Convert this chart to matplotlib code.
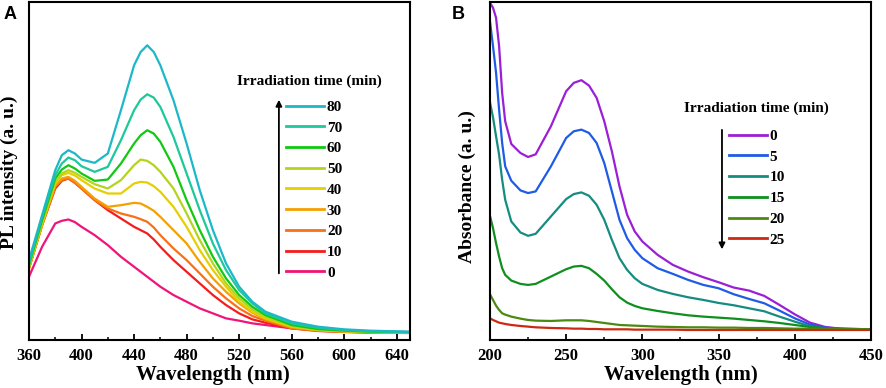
import matplotlib
matplotlib.use("Agg")
import matplotlib.pyplot as plt
from matplotlib.ticker import MultipleLocator

plt.rcParams["font.family"] = ["Liberation Serif", "DejaVu Serif"]
plt.rcParams["font.weight"] = "bold"

# ---- Panel A: PL spectra (arbitrary units) ----
pl_wavelength = [360, 370, 380, 385, 390, 395, 400, 410, 420, 430, 440, 445,
                 450, 455, 460, 470, 480, 490, 500, 510, 520, 530, 540, 560,
                 580, 600, 620, 650]
pl_times = ["0", "10", "20", "30", "40", "50", "60", "70", "80"]
pl_0 = [190, 280, 350, 358, 362, 354, 340, 315, 285, 250, 220, 205,
        190, 175, 160, 135, 115, 95, 80, 65, 58, 50, 45, 35,
        30, 27, 25, 24]
pl_10 = [215, 345, 455, 478, 485, 472, 455, 420, 390, 365, 340, 330,
         320, 302, 280, 240, 205, 170, 135, 105, 80, 62, 52, 35,
         27, 24, 22, 21]
pl_20 = [215, 345, 460, 480, 485, 472, 455, 420, 395, 380, 370, 363,
         355, 338, 315, 275, 240, 200, 160, 125, 95, 72, 58, 35,
         28, 25, 23, 22]
pl_30 = [215, 345, 465, 485, 490, 478, 460, 425, 400, 405, 412, 410,
         400, 388, 370, 330, 290, 235, 185, 145, 110, 82, 62, 38,
         29, 25, 23, 22]
pl_40 = [220, 350, 470, 495, 502, 494, 480, 455, 440, 440, 470, 475,
         473, 462, 445, 400, 340, 270, 210, 160, 115, 85, 65, 40,
         30, 26, 24, 22]
pl_50 = [220, 355, 475, 500, 510, 502, 490, 468, 455, 480, 525, 542,
         538, 525, 505, 455, 380, 300, 230, 170, 125, 92, 70, 42,
         31, 27, 24, 23]
pl_60 = [225, 360, 485, 512, 525, 515, 500, 478, 482, 530, 590, 615,
         630, 620, 595, 520, 420, 330, 250, 185, 135, 100, 75, 45,
         33, 28, 25, 23]
pl_70 = [230, 370, 495, 530, 548, 540, 522, 505, 520, 600, 690, 722,
         738, 728, 700, 610, 500, 390, 290, 210, 150, 110, 80, 50,
         37, 30, 26, 24]
pl_80 = [240, 375, 510, 555, 570, 560, 542, 532, 560, 690, 825, 865,
         885, 865, 825, 720, 590, 450, 330, 230, 160, 115, 85, 55,
         40, 32, 28, 25]
pl_series = [pl_0, pl_10, pl_20, pl_30, pl_40, pl_50, pl_60, pl_70, pl_80]
pl_colors = ["#f0147a", "#f51c1c", "#f87018", "#f5a000", "#e6cf00",
             "#b4d41c", "#12c812", "#1ec89a", "#1cb8c8"]

# ---- Panel B: absorbance spectra (arbitrary units) ----
ab_wavelength = [200, 202, 204, 206, 208, 210, 214, 220, 225, 230, 240, 250,
                 255, 260, 265, 270, 275, 280, 285, 290, 295, 300, 310, 320,
                 330, 340, 350, 360, 370, 380, 390, 400, 410, 420, 430, 440, 450]
ab_times = ["0", "5", "10", "15", "20", "25"]
ab_0 = [1010, 995, 965, 880, 740, 655, 587, 560, 548, 556, 640, 745,
        770, 778, 762, 725, 655, 565, 460, 375, 325, 295, 255, 225,
        205, 188, 173, 157, 148, 132, 105, 77, 52, 39, 34, 33, 32]
ab_5 = [955, 880, 800, 690, 590, 520, 477, 448, 440, 445, 520, 605,
        625, 630, 620, 590, 530, 445, 360, 305, 270, 245, 215, 198,
        180, 165, 155, 137, 123, 110, 88, 65, 46, 37, 34, 33, 32]
ab_10 = [712, 667, 610, 555, 480, 420, 355, 322, 312, 318, 370, 422,
         437, 442, 432, 405, 360, 300, 245, 210, 185, 168, 150, 138,
         128, 120, 111, 104, 95, 86, 70, 55, 41, 35, 33, 32, 32]
ab_15 = [372, 335, 290, 250, 215, 195, 178, 168, 165, 168, 190, 212,
         220, 222, 215, 198, 178, 152, 128, 112, 102, 95, 87, 80,
         74, 70, 67, 64, 60, 56, 51, 45, 39, 35, 33, 32, 32]
ab_20 = [137, 120, 103, 90, 80, 76, 70, 64, 60, 58, 57, 59,
         59, 59, 57, 54, 51, 48, 45, 44, 43, 42, 40, 39,
         38, 38, 37, 37, 36, 36, 35, 34, 34, 33, 33, 32, 32]
ab_25 = [65, 60, 56, 52, 50, 48, 45, 42, 40, 38, 36, 35,
         34, 34, 33, 33, 32, 32, 32, 32, 31, 31, 31, 31,
         30, 30, 30, 30, 30, 30, 30, 30, 30, 30, 30, 30, 30]
ab_series = [ab_0, ab_5, ab_10, ab_15, ab_20, ab_25]
ab_colors = ["#9b1fd6", "#1f5be6", "#168c80", "#0f8f1f", "#4a8a10", "#cc2a10"]


def style_axes(ax, xmin, xmax, major, minor, ymax):
    ax.set_xlim(xmin, xmax)
    ax.set_ylim(0, ymax)
    ax.set_yticks([])
    ax.xaxis.set_major_locator(MultipleLocator(major))
    ax.xaxis.set_minor_locator(MultipleLocator(minor))
    ax.tick_params(axis="x", which="major", direction="in", length=4,
                   width=1.3, labelsize=12, pad=6)
    ax.tick_params(axis="x", which="minor", direction="in", length=2.2,
                   width=1.1)
    for lab in ax.get_xticklabels():
        lab.set_fontweight("bold")
    for sp in ax.spines.values():
        sp.set_linewidth(1.5)


def add_legend(ax, handles, anchor):
    leg = ax.legend(handles=handles, loc="upper left", bbox_to_anchor=anchor,
                    frameon=False, fontsize=11, handlelength=2.48,
                    handletextpad=0.2, labelspacing=0.46, borderpad=0,
                    borderaxespad=0)
    for ln in leg.get_lines():
        ln.set_linewidth(2)
    return leg


fig = plt.figure(figsize=(8.86, 3.88), dpi=100)
ax_a = fig.add_axes([0.0327, 0.1237, 0.430, 0.871])
ax_b = fig.add_axes([0.553, 0.1237, 0.430, 0.871])

# Panel A
lines_a = []
for t, vals, c in zip(pl_times, pl_series, pl_colors):
    ln, = ax_a.plot(pl_wavelength, vals, color=c, lw=1.6, label=t)
    lines_a.append(ln)
style_axes(ax_a, 360, 650, 40, 20, 1015)
ax_a.set_xlabel("Wavelength (nm)", fontsize=15, fontweight="bold")
ax_a.xaxis.set_label_coords(0.483, -0.075)
ax_a.set_ylabel("PL intensity (a. u.)", fontsize=14, fontweight="bold")
ax_a.yaxis.set_label_coords(-0.03, 0.497)
add_legend(ax_a, lines_a[::-1], (0.6745, 0.7095))
ax_a.text(0.735, 0.766, "Irradiation time (min)", transform=ax_a.transAxes,
          ha="center", va="center", fontsize=11, fontweight="bold")
ax_a.annotate("", xy=(0.656, 0.719), xytext=(0.656, 0.189),
              xycoords="axes fraction",
              arrowprops=dict(arrowstyle="-|>", color="black", lw=1.3,
                              mutation_scale=9))
fig.text(0.004, 0.952, "A", fontsize=13, fontweight="bold",
         family="Liberation Sans")

# Panel B
lines_b = []
for t, vals, c in zip(ab_times, ab_series, ab_colors):
    ln, = ax_b.plot(ab_wavelength, vals, color=c, lw=1.6, label=t)
    lines_b.append(ln)
style_axes(ax_b, 200, 450, 50, 25, 1012)
ax_b.set_xlabel("Wavelength (nm)", fontsize=15, fontweight="bold")
ax_b.xaxis.set_label_coords(0.50, -0.075)
ax_b.set_ylabel("Absorbance (a. u.)", fontsize=14, fontweight="bold")
ax_b.yaxis.set_label_coords(-0.037, 0.453)
add_legend(ax_b, lines_b, (0.627, 0.6235))
ax_b.text(0.698, 0.686, "Irradiation time (min)", transform=ax_b.transAxes,
          ha="center", va="center", fontsize=11, fontweight="bold")
ax_b.annotate("", xy=(0.609, 0.260), xytext=(0.609, 0.630),
              xycoords="axes fraction",
              arrowprops=dict(arrowstyle="-|>", color="black", lw=1.3,
                              mutation_scale=9))
fig.text(0.510, 0.952, "B", fontsize=13, fontweight="bold",
         family="Liberation Sans")

fig.savefig("out.png", dpi=100)
